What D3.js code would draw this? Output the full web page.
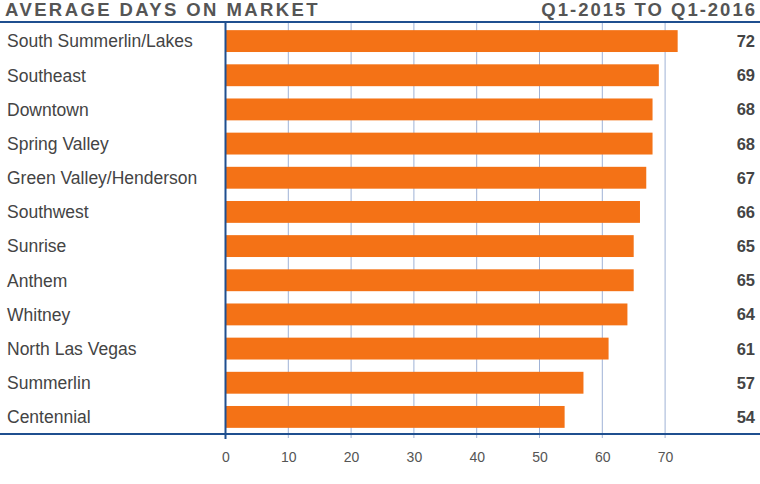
<!DOCTYPE html>
<html><head><meta charset="utf-8">
<script src="https://cdn.jsdelivr.net/npm/d3@7"></script>
<style>body{margin:0;background:#fff;}svg{display:block;font-family:"Liberation Sans",Arial,sans-serif;}</style>
</head><body><svg id="c" width="760" height="484"></svg>
<script>
const categories = ["South Summerlin/Lakes","Southeast","Downtown","Spring Valley","Green Valley/Henderson","Southwest","Sunrise","Anthem","Whitney","North Las Vegas","Summerlin","Centennial"];
const values = [72,69,68,68,67,66,65,65,64,61,57,54];
const tickValues = [0,10,20,30,40,50,60,70];
const title = "AVERAGE DAYS ON MARKET";
const subtitle = "Q1-2015 TO Q1-2016";

const svg = d3.select("#c");
const x0 = 225.5, yTop = 22, yBottom = 434;
const x = d3.scaleLinear().domain([0,70]).range([x0, x0+439.6]);
const y = d3.scaleBand().domain(categories).range([yTop+2, yBottom]).paddingInner(0.36).paddingOuter(0.18);

// gridlines
svg.append("g").selectAll("line").data(tickValues.filter(d=>d>0)).join("line")
  .attr("x1",d=>x(d)).attr("x2",d=>x(d)).attr("y1",yTop).attr("y2",yBottom+4)
  .attr("stroke","#9fb2d6").attr("stroke-width",1);

// bars
svg.append("g").selectAll("rect").data(values).join("rect")
  .attr("x",x(0)).attr("y",(d,i)=>y(categories[i]))
  .attr("width",d=>x(d)-x(0)).attr("height",y.bandwidth())
  .attr("fill","#f47216");

// axis lines
svg.append("line").attr("x1",0).attr("x2",760).attr("y1",yTop).attr("y2",yTop).attr("stroke","#1f4f8f").attr("stroke-width",2);
svg.append("line").attr("x1",0).attr("x2",760).attr("y1",yBottom).attr("y2",yBottom).attr("stroke","#1f4f8f").attr("stroke-width",2);
svg.append("line").attr("x1",x(0)).attr("x2",x(0)).attr("y1",yTop).attr("y2",yBottom+5).attr("stroke","#1f4f8f").attr("stroke-width",2);

// x axis
const ax = d3.axisBottom(x).tickValues(tickValues).tickSize(0).tickPadding(0);
const g = svg.append("g").attr("transform",`translate(0,${yBottom})`).call(ax);
g.select(".domain").remove();
g.selectAll("text").attr("y",28).attr("dy",null).attr("font-size",14).attr("fill","#555").attr("font-family","Liberation Sans, Arial, sans-serif");

// category labels
svg.append("g").selectAll("text").data(categories).join("text")
  .attr("x",7).attr("y",d=>y(d)+y.bandwidth()/2).attr("dy","0.36em")
  .attr("font-size",17.5).attr("fill","#444").text(d=>d);

// value labels
svg.append("g").selectAll("text").data(values).join("text")
  .attr("x",755).attr("y",(d,i)=>y(categories[i])+y.bandwidth()/2).attr("dy","0.36em")
  .attr("text-anchor","end").attr("font-size",16.5).attr("font-weight","bold").attr("fill","#444").text(d=>d);

// titles
svg.append("text").attr("x",5).attr("y",16).attr("font-size",18.5).attr("font-weight","bold")
  .attr("letter-spacing","2.4px").attr("fill","#555").text(title);
svg.append("text").attr("x",757).attr("y",16).attr("text-anchor","end").attr("font-size",18.5).attr("font-weight","bold")
  .attr("letter-spacing","2px").attr("fill","#555").text(subtitle);
</script></body></html>
